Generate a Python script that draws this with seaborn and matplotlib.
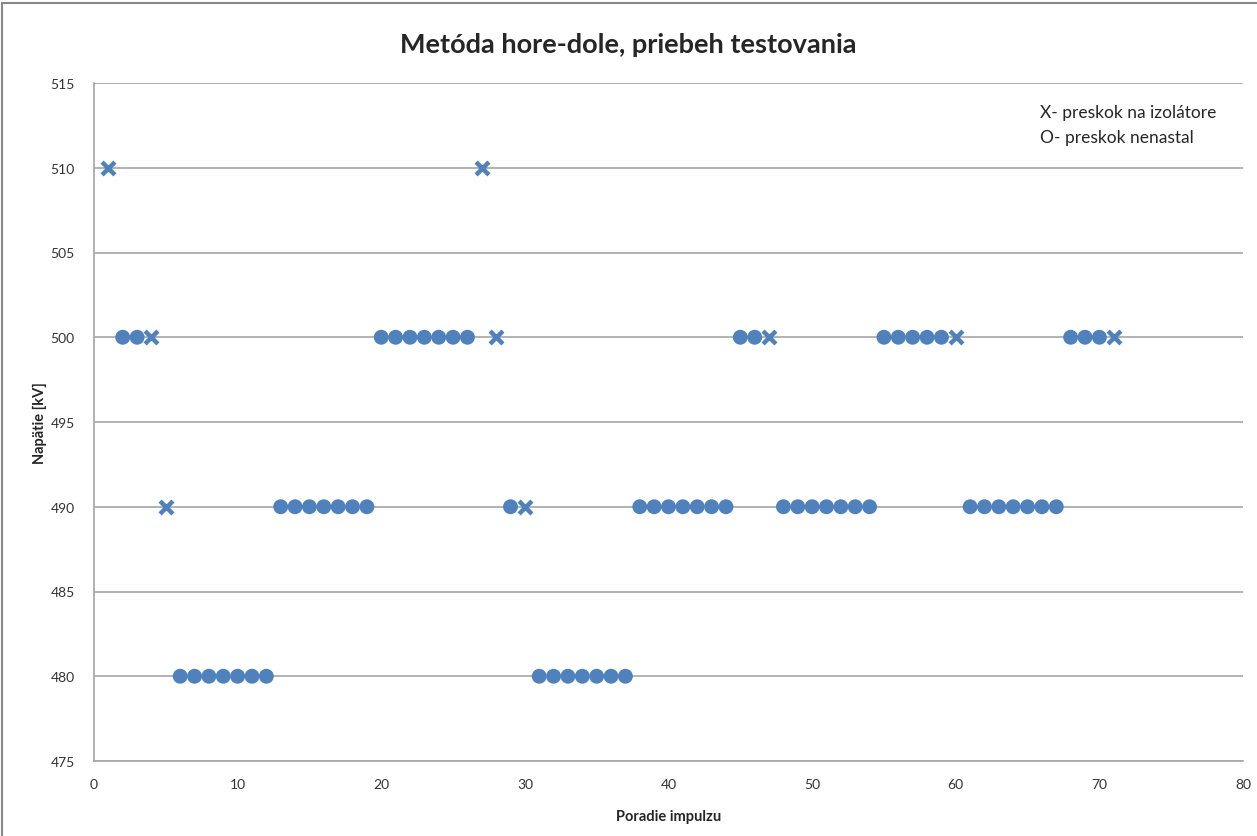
import matplotlib
matplotlib.use("Agg")
import matplotlib.pyplot as plt
import seaborn as sns
import pandas as pd
from matplotlib.patches import Rectangle

# Data
impulse = list(range(1, 72))
voltage = [510, 500, 500, 500, 490,
           480, 480, 480, 480, 480, 480, 480,
           490, 490, 490, 490, 490, 490, 490,
           500, 500, 500, 500, 500, 500, 500,
           510, 500, 490, 490,
           480, 480, 480, 480, 480, 480, 480,
           490, 490, 490, 490, 490, 490, 490,
           500, 500, 500,
           490, 490, 490, 490, 490, 490, 490,
           500, 500, 500, 500, 500, 500,
           490, 490, 490, 490, 490, 490, 490,
           500, 500, 500, 500]
outcome = ['X', 'O', 'O', 'X', 'X'] + ['O'] * 7 + ['O'] * 7 + ['O'] * 7 + \
          ['X', 'X', 'O', 'X'] + ['O'] * 7 + ['O'] * 7 + ['O', 'O', 'X'] + \
          ['O'] * 7 + ['O'] * 5 + ['X'] + ['O'] * 7 + ['O', 'O', 'O', 'X']

df = pd.DataFrame({"impulse": impulse, "voltage": voltage, "outcome": outcome})

sns.set_theme(style="white")
plt.rcParams['font.family'] = ['Lato', 'DejaVu Sans']

color = "#4F81BD"
fig = plt.figure(figsize=(12.57, 8.37), dpi=100)
ax = fig.add_axes([94/1257, 1 - 762/837, (1243-94)/1257, (762-84)/837])

ax.set_axisbelow(True)
ax.grid(axis='y', color='#A6A6A6', linewidth=1.2)
ax.grid(axis='x', visible=False)

sns.scatterplot(data=df[df.outcome == 'O'], x="impulse", y="voltage", ax=ax,
                marker='o', s=115, color=color, edgecolor='none', zorder=3, legend=False)
sns.scatterplot(data=df[df.outcome == 'X'], x="impulse", y="voltage", ax=ax,
                marker='x', s=85, color=color, linewidth=3.2, zorder=3, legend=False)

ax.set_xlim(0, 80)
ax.set_ylim(475, 515)
ax.set_xticks(range(0, 81, 10))
ax.set_yticks(range(475, 516, 5))
ax.tick_params(axis='both', labelsize=10, colors='#333333', length=0, pad=12)
ax.tick_params(axis='y', pad=14)
for s in ['top', 'right']:
    ax.spines[s].set_visible(False)
ax.spines['left'].set_color('#A6A6A6')
ax.spines['bottom'].set_color('#A6A6A6')
ax.spines['left'].set_linewidth(1.2)
ax.spines['bottom'].set_linewidth(1.2)

ax.set_xlabel("Poradie impulzu", fontsize=10.5, fontweight='bold', labelpad=14)
ax.set_ylabel("Napätie [kV]", fontsize=10.5, fontweight='bold', labelpad=2)
fig.text(0.5, 1 - 45/837, "Metóda hore-dole, priebeh testovania", ha='center', va='center',
         fontsize=19.5, fontweight='bold')

fig.text(1040/1257, 1 - 113/837, "X- preskok na izolátore", fontsize=12.5, va='center', ha='left')
fig.text(1040/1257, 1 - 138/837, "O- preskok nenastal", fontsize=12.5, va='center', ha='left')

fig.patches.append(Rectangle((2/1257, -0.1), 1.2, 1.1 - 2/837 - 0.002,
                             transform=fig.transFigure, fill=False, edgecolor='#888888',
                             linewidth=1.5))

fig.savefig("out.png", dpi=100)
